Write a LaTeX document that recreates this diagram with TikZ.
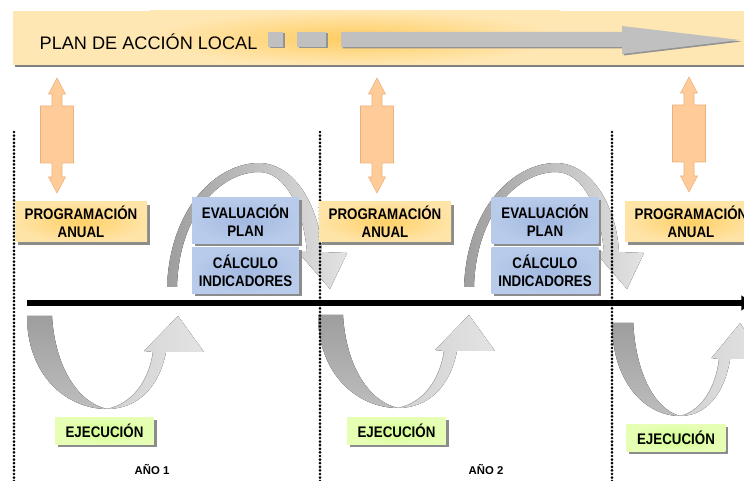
\documentclass[tikz,border=0pt]{standalone}
\usepackage{fontspec}
\setmainfont{Liberation Sans}
\newfontfamily\narrowfont[FakeStretch=0.87]{Liberation Sans}
\usetikzlibrary{positioning,shadows,arrows.meta}

\definecolor{bannerbg}{HTML}{FFE7B3}
\definecolor{bannerglow}{HTML}{FFCC5E}
\definecolor{progbg}{HTML}{FFE4A8}
\definecolor{progglow}{HTML}{FFCB55}
\definecolor{evalbg}{HTML}{B8CBEA}
\definecolor{evalglow}{HTML}{A2B8E0}
\definecolor{ejecbg}{HTML}{E6FFB5}
\definecolor{ejecglow}{HTML}{CFFF88}
\definecolor{updownfill}{HTML}{FFCC99}
\definecolor{updownedge}{HTML}{EDB07C}
\definecolor{loopdark}{HTML}{9E9E9E}
\definecolor{looplight}{HTML}{E3E3E3}
\definecolor{titlegray}{HTML}{C0C0C0}

\begin{document}
\begin{tikzpicture}[x=0.75pt, y=-0.75pt,
box/.style={rectangle, inner sep=0pt, align=center,
  font=\narrowfont\bfseries\fontsize{11.5}{13.5}\selectfont,
  drop shadow={shadow xshift=2pt, shadow yshift=-2pt, fill=black!45, opacity=1}},
prog/.style={box, minimum width=99pt, minimum height=30pt, inner color=progglow!80!progbg, outer color=progbg},
evalbox/.style={box, minimum width=80pt, minimum height=34pt, inner color=evalglow, outer color=evalbg},
ejec/.style={box, minimum width=74pt, minimum height=20pt, inner color=ejecglow!80!ejecbg, outer color=ejecbg},
year/.style={font=\bfseries\fontsize{8.5}{10}\selectfont},
divider/.style={line width=2.2pt, dash pattern=on 0pt off 2.7pt, line cap=round},
axis/.style={line width=4.5pt, -{Triangle[length=8pt,width=11pt]}},
updown/.pic={
  \draw[fill=updownfill, draw=updownedge, line width=0.4pt]
    (0,0) -- (8.5,16) -- (5,16) -- (5,28) -- (16.5,28) -- (16.5,85) -- (5,85) -- (5,99)
    -- (8.5,99) -- (0,115) -- (-8.5,99) -- (-5,99) -- (-5,85) -- (-16.5,85) -- (-16.5,28)
    -- (-5,28) -- (-5,16) -- (-8.5,16) -- cycle;
},
arcover/.pic={
  \fill[left color=loopdark, right color=looplight]
    (0,0) .. controls (3,-80) and (50,-124) .. (92,-124)
    .. controls (125,-124) and (152,-85) .. (155,-35) -- (180,-34) -- (163,2) -- (131,-35)
    -- (140,-35) .. controls (136,-80) and (118,-115) .. (92,-115)
    .. controls (55,-115) and (12,-75) .. (10,0) -- cycle;
},
arcunder/.pic={
  \fill[top color=loopdark, bottom color=loopdark!55!looplight]
    (0,0) .. controls (0,60) and (40,93) .. (80,93)
    .. controls (50,86) and (28,50) .. (25,0) -- cycle;
  \fill[left color=looplight!75!loopdark, right color=looplight]
    (80,93) .. controls (105,88) and (122,65) .. (126,36) -- (117,35) -- (151,0)
    -- (177,36) -- (139,36) .. controls (132,72) and (110,93) .. (80,93) -- cycle;
  \draw[loopdark!80, line width=0.4pt]
    (80,93) .. controls (105,88) and (122,65) .. (126,36);
}
]
\useasboundingbox (0,0) rectangle (744,481);

%Banner
\fill[bannerbg] (13,11) rectangle (760,65);
\shade[inner color=bannerglow, outer color=bannerbg] (150,11) rectangle (560,65);
\draw[gray, line width=1pt] (15,66) -- (760,66);
\node[anchor=west, font=\fontsize{13.6}{16}\selectfont] (plan) at (35,42) {PLAN DE ACCIÓN LOCAL};
\foreach \c/\s in {gray!85/1.5, titlegray/0} {
  \begin{scope}[shift={(\s,\s)}]
    \fill[\c] (268,32) rectangle (283,47);
    \fill[\c] (297,32) rectangle (326,47);
    \fill[\c] (341,32) -- (622,32) -- (622,26) -- (740,40) -- (622,54) -- (622,47) -- (341,47) -- cycle;
  \end{scope}
}

%Double arrows
\pic at (57,78) {updown};
\pic at (377,78) {updown};
\pic at (689,77) {updown};

%Loops
\pic at (167,287) {arcover};
\pic at (464,287) {arcover};
\pic at (27,316) {arcunder};
\pic at (318,315) {arcunder};
\pic[xscale=0.85] at (612,323) {arcunder};

%Year dividers
\coordinate (d1top) at (14,132);   \coordinate (d1bot) at (14,483);
\coordinate (d2top) at (320,132);  \coordinate (d2bot) at (320,483);
\coordinate (d3top) at (612,132);  \coordinate (d3bot) at (612,483);
\draw[divider] (d1top) -- (d1bot);
\draw[divider] (d2top) -- (d2bot);
\draw[divider] (d3top) -- (d3bot);

%Time axis
\coordinate (axisL) at (27,303);
\coordinate (axisR) at (752,303);
\draw[axis] (axisL) -- (axisR);

%Boxes
\node[prog]    (prog1) at (81,222)     {PROGRAMACIÓN\\ANUAL};
\node[prog]    (prog2) at (385,222)    {PROGRAMACIÓN\\ANUAL};
\node[prog]    (prog3) at (691,222)    {PROGRAMACIÓN\\ANUAL};
\node[evalbox] (eval1) at (245.5,220.5) {EVALUACIÓN\\PLAN};
\node[evalbox] (calc1) [below=3pt of eval1] {CÁLCULO\\INDICADORES};
\node[evalbox] (eval2) at (545,220.5)  {EVALUACIÓN\\PLAN};
\node[evalbox] (calc2) [below=3pt of eval2] {CÁLCULO\\INDICADORES};
\node[ejec]    (ejec1) at (104.5,431)  {EJECUCIÓN};
\node[ejec]    (ejec2) at (396.5,431)  {EJECUCIÓN};
\node[ejec]    (ejec3) at (676,438)    {EJECUCIÓN};

%Years
\node[year] (year1) at (152,470) {AÑO 1};
\node[year] (year2) at (486,470) {AÑO 2};
\end{tikzpicture}
\end{document}
